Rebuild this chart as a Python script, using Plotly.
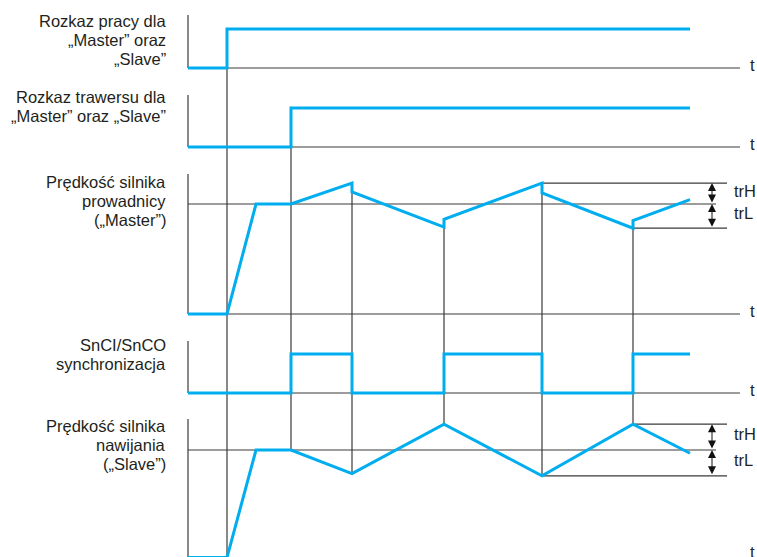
import plotly.graph_objects as go

# chwile zdarzeń (jednostki umowne czasu)
t_run = 3.9
t_ramp = 6.8
t_trav = 10.3
t_switch = [16.4, 25.6, 35.4, 44.5]
t_end = 50.2

# sygnały binarne
run_t = [0, t_run, t_run, t_end]
run_v = [0, 0, 1, 1]
trav_t = [0, t_trav, t_trav, t_end]
trav_v = [0, 0, 1, 1]
sync_t = [0, 10.3, 10.3, 16.4, 16.4, 25.6, 25.6, 35.4, 35.4, 44.5, 44.5, 50.2]
sync_v = [0, 0, 1, 1, 0, 0, 1, 1, 0, 0, 1, 1]

# prędkości [% wartości zadanej]
master_t = [0, 3.9, 6.8, 10.3, 16.4, 16.4, 25.6, 25.6, 35.4, 35.4, 44.5, 44.5, 50.2]
master_v = [0, 0, 100, 100, 119, 111, 79, 86, 119, 110, 78, 85, 104]
slave_t = [0, 3.9, 6.8, 10.3, 16.4, 25.6, 35.4, 44.5, 50.2]
slave_v = [0, 0, 100, 100, 78, 124, 76, 124, 97]

labels = [
    ["Rozkaz pracy dla", "„Master” oraz", "„Slave”"],
    ["Rozkaz trawersu dla", "„Master” oraz „Slave”"],
    ["Prędkość silnika", "prowadnicy", "(„Master”)"],
    ["SnCI/SnCO", "synchronizacja"],
    ["Prędkość silnika", "nawijania", "(„Slave”)"],
]

# układ paneli: poziom bazowy, skala, wysokość osi, położenie pierwszej linii opisu
base = [489, 410, 243, 164, -0.5]
scale = [39, 39, 1.1, 39, 1.075]
height = [53, 52, 140, 52, 138.5]
label_y = [536, 460, 375, 212, 131]
t_dy = [3, 3, 3, 3, 6]

BLUE = "#00aeef"
GRAY = "#3a3a3a"
TXT = "#231f20"
FONT = dict(family="Liberation Sans, Arial, sans-serif", size=16.5, color=TXT)

t_axis_end = 55.2
t_ref_end = 52.8
t_br_end = 53.9
t_arrow = 52.4
x_label = -2.0


def py(i, v):
    return base[i] + v * scale[i]


def val_at(ts, vs, t, f=max):
    return f(v for tt, v in zip(ts, vs) if tt == t)


fig = go.Figure()


def gline(x, y, color=GRAY, width=1.2):
    fig.add_trace(go.Scatter(x=x, y=y, mode="lines", line=dict(color=color, width=width),
                             hoverinfo="skip", showlegend=False))


# osie paneli
for i in range(5):
    gline([0, 0], [py(i, 0) + height[i], py(i, 0)])
    if i < 4:
        gline([0, t_axis_end], [py(i, 0), py(i, 0)])

# linie odniesienia prędkości
for i in (2, 4):
    gline([0, t_ref_end], [py(i, 100), py(i, 100)])

# linie pionowe zdarzeń
gline([t_run, t_run], [py(0, 0), py(4, 0)])
gline([t_trav, t_trav], [py(1, 0), py(4, 100)])
for t in t_switch:
    gline([t, t], [py(2, val_at(master_t, master_v, t)), py(4, val_at(slave_t, slave_v, t))])

# pasma trH / trL
for i, ts, vs in ((2, master_t, master_v), (4, slave_t, slave_v)):
    sel = [(t, v) for t, v in zip(ts, vs) if t >= t_trav]
    hi = max(v for _, v in sel)
    lo = min(v for _, v in sel)
    t_hi = max(t for t, v in sel if v == hi)
    t_lo = max(t for t, v in sel if v == lo)
    gline([t_hi, t_br_end], [py(i, hi), py(i, hi)])
    gline([t_lo, t_br_end], [py(i, lo), py(i, lo)])
    for a, b, name in ((hi, 100, "trH"), (100, lo, "trL")):
        fig.add_annotation(x=t_arrow, y=py(i, a), ax=t_arrow, ay=py(i, b), axref="x", ayref="y",
                           xref="x", yref="y", text="", showarrow=True, arrowside="end+start",
                           arrowhead=2, arrowsize=1.6, arrowwidth=1, arrowcolor="#111")
        fig.add_annotation(x=54.4, y=(py(i, a) + py(i, b)) / 2, text=name, showarrow=False,
                           xanchor="left", yanchor="middle", yshift=3, font=FONT)

# sygnały
for i, ts, vs in ((0, run_t, run_v), (1, trav_t, trav_v), (2, master_t, master_v),
                  (3, sync_t, sync_v), (4, slave_t, slave_v)):
    fig.add_trace(go.Scatter(x=ts, y=[py(i, v) for v in vs], mode="lines",
                             line=dict(color=BLUE, width=3), hoverinfo="skip", showlegend=False))
    for k, line in enumerate(labels[i]):
        fig.add_annotation(x=x_label, y=label_y[i] - 19 * k, text=line, showarrow=False,
                           xanchor="right", yanchor="middle", font=FONT)
    fig.add_annotation(x=56.4, y=py(i, 0) + t_dy[i], text="t", showarrow=False,
                       xanchor="center", yanchor="middle", font=FONT)

fig.update_layout(
    width=757, height=557,
    margin=dict(l=0, r=0, t=0, b=0),
    plot_bgcolor="white", paper_bgcolor="white",
    xaxis=dict(range=[-18.8, 56.9], visible=False, fixedrange=True),
    yaxis=dict(range=[0, 557], visible=False, fixedrange=True),
)

fig.write_html("out.html", config={"displayModeBar": False},
               post_script="document.body.style.margin='0';")
